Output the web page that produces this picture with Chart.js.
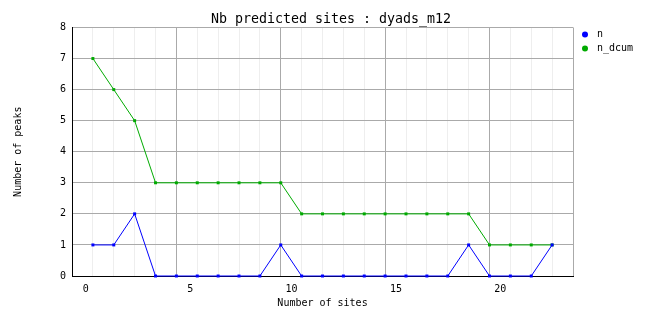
<!DOCTYPE html>
<html>
<head>
<meta charset="utf-8">
<title>Nb predicted sites : dyads_m12</title>
<script src="https://cdn.jsdelivr.net/npm/chart.js@4"></script>
<style>
    body { margin: 0; background: #fff; }
    canvas { display: block; }
</style>
</head>
<body>
<canvas id="sitesChart" width="662" height="328"></canvas>
<script>
// number of sites (x) and the two series
const sites = [0, 1, 2, 3, 4, 5, 6, 7, 8, 9, 10, 11, 12, 13, 14, 15, 16, 17, 18, 19, 20, 21, 22];
const nValues = [1, 1, 2, 0, 0, 0, 0, 0, 0, 1, 0, 0, 0, 0, 0, 0, 0, 0, 1, 0, 0, 0, 1];
const nDcumValues = [7, 6, 5, 3, 3, 3, 3, 3, 3, 3, 2, 2, 2, 2, 2, 2, 2, 2, 2, 1, 1, 1, 1];
const xTickLabels = [0, 5, 10, 15, 20];
const seriesNames = ['n', 'n_dcum'];
const seriesColors = ['#0000ff', '#00aa00'];

const monoFont = '"DejaVu Sans Mono", "Liberation Mono", monospace';

function toPoints(values) {
    let points = [];
    for (let i = 0; i < sites.length; i++) {
        points.push({ x: sites[i], y: values[i] });
    }
    return points;
}

function makeDataset(label, values, color) {
    return {
        label: label,
        data: toPoints(values),
        borderColor: color,
        backgroundColor: color,
        borderWidth: 1,
        pointStyle: 'rect',
        pointRadius: 2.1,
        pointBorderWidth: 0,
        pointBackgroundColor: color,
        tension: 0,
        clip: false,
    };
}

// legend on the right side, drawn next to the plot area
const sideLegend = {
    id: 'sideLegend',
    afterDraw(chart) {
        const ctx = chart.ctx;
        const area = chart.chartArea;
        ctx.save();
        ctx.font = `10px ${monoFont}`;
        ctx.textBaseline = 'middle';
        chart.data.datasets.forEach((ds, i) => {
            const y = area.top + 7 + i * 14;
            ctx.fillStyle = ds.borderColor;
            ctx.beginPath();
            ctx.arc(area.right + 12, y, 3, 0, Math.PI * 2);
            ctx.fill();
            ctx.fillStyle = '#000';
            ctx.fillText(ds.label, area.right + 24, y);
        });
        ctx.restore();
    }
};

const data = {
    datasets: [
        makeDataset(seriesNames[0], nValues, seriesColors[0]),
        makeDataset(seriesNames[1], nDcumValues, seriesColors[1]),
    ]
};

const config = {
    type: 'line',
    data: data,
    plugins: [sideLegend],
    options: {
        responsive: false,
        animation: false,
        layout: { padding: { left: 0, right: 0, top: 0, bottom: 19 } },
        plugins: {
            legend: { display: false },
            tooltip: { enabled: false },
            title: {
                display: true,
                text: 'Nb predicted sites : dyads_m12',
                color: '#000',
                font: { family: monoFont, size: 13.3, weight: 'normal' },
                padding: { top: 11.5, bottom: 0 },
            },
        },
        scales: {
            x: {
                type: 'linear',
                min: sites[0] - 1,
                max: sites[sites.length - 1] + 1,
                grid: {
                    drawTicks: false,
                    lineWidth: 1,
                    color: (c) => {
                        const v = c.tick ? c.tick.value : 0;
                        if (v === sites[0] - 1) return 'rgba(0,0,0,0)';
                        if (v === sites[sites.length - 1] + 1) return '#aaaaaa';
                        if (xTickLabels.includes(v + 1)) return '#aaaaaa';
                        return '#eeeeee';
                    },
                },
                border: { display: true, color: '#000', width: 1 },
                ticks: {
                    stepSize: 1,
                    autoSkip: false,
                    maxRotation: 0,
                    align: 'end',
                    labelOffset: -4,
                    padding: 7,
                    color: '#000',
                    font: { family: monoFont, size: 10 },
                    callback: (v) => xTickLabels.includes(v) ? String(v) : '',
                },
                title: {
                    display: true,
                    text: 'Number of sites',
                    color: '#000',
                    font: { family: monoFont, size: 10 },
                    padding: { top: -5, bottom: 0 },
                },
            },
            y: {
                min: 0,
                max: 8,
                grid: { drawTicks: false, color: '#aaaaaa', lineWidth: 1 },
                border: { display: true, color: '#000', width: 1 },
                ticks: {
                    stepSize: 1,
                    padding: 6,
                    color: '#000',
                    font: { family: monoFont, size: 10 },
                },
                title: {
                    display: true,
                    text: 'Number of peaks',
                    color: '#000',
                    font: { family: monoFont, size: 10 },
                    padding: { top: 12, bottom: 30 },
                },
            },
            // empty axis that keeps room for the legend
            yRoom: {
                type: 'linear',
                position: 'right',
                display: true,
                grid: { display: false, drawTicks: false },
                border: { display: false },
                ticks: { display: false },
                afterFit: (scale) => { scale.width = 89; },
            },
        },
    },
};

const myChart = new Chart(document.getElementById('sitesChart'), config);
</script>
</body>
</html>
